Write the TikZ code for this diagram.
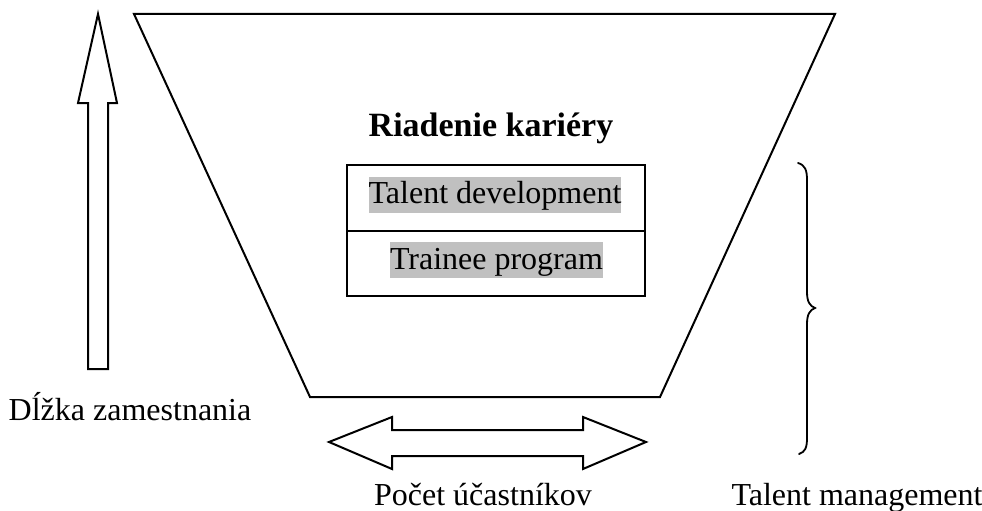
\documentclass[tikz,border=0pt]{standalone}
\usepackage{fontspec}
\setmainfont{Liberation Serif}
\definecolor{hl}{HTML}{C0C0C0}
\tikzset{
  shape line/.style={draw=black, line width=2pt, line join=miter},
  label text/.style={font=\fontsize{32}{38}\selectfont, inner sep=0pt, anchor=base},
  hl text/.style={font=\fontsize{32}{38}\selectfont, fill=hl, inner xsep=0pt, inner ysep=1pt, text height=26pt, text depth=8pt},
}
\begin{document}
\begin{tikzpicture}[x=1pt, y=-1pt]
\useasboundingbox (0,0) rectangle (982,511);
% funnel (trapezoid)
\draw[shape line] (134,14) -- (835,14) -- (660,397) -- (310,397) -- cycle;
% up arrow
\draw[shape line] (98,14) -- (117,103) -- (108,103) -- (108,369) -- (88,369) -- (88,103) -- (78,103) -- cycle;
% double arrow
\draw[shape line] (329,442) -- (392,417) -- (392,430) -- (583,430) -- (583,417) -- (646,442)
  -- (583,469) -- (583,456) -- (392,456) -- (392,469) -- cycle;
% box
\draw[shape line] (347,165) rectangle (645,296);
\draw[shape line] (347,231) -- (645,231);
\node[hl text] (td) at (495,194.5) {Talent development};
\node[hl text] (tp) at (496.5,260) {Trainee program};
% title
\node[label text, font=\fontsize{34}{40}\selectfont\bfseries] (title) at (491,136) {Riadenie kariéry};
% brace
\draw[line width=1.8pt, line cap=round]
  (798,163) .. controls (805,165) and (807,170) .. (807,180)
  -- (807,292) .. controls (807,302) and (810,306) .. (815,308)
  .. controls (810,310) and (807,314) .. (807,324)
  -- (807,438) .. controls (807,448) and (805,452) .. (799,454);
% labels
\node[label text] (dlzka) at (130,420) {Dĺžka zamestnania};
\node[label text] (pocet) at (483,505) {Počet účastníkov};
\node[label text] (tm) at (857,505) {Talent management};
\end{tikzpicture}
\end{document}
